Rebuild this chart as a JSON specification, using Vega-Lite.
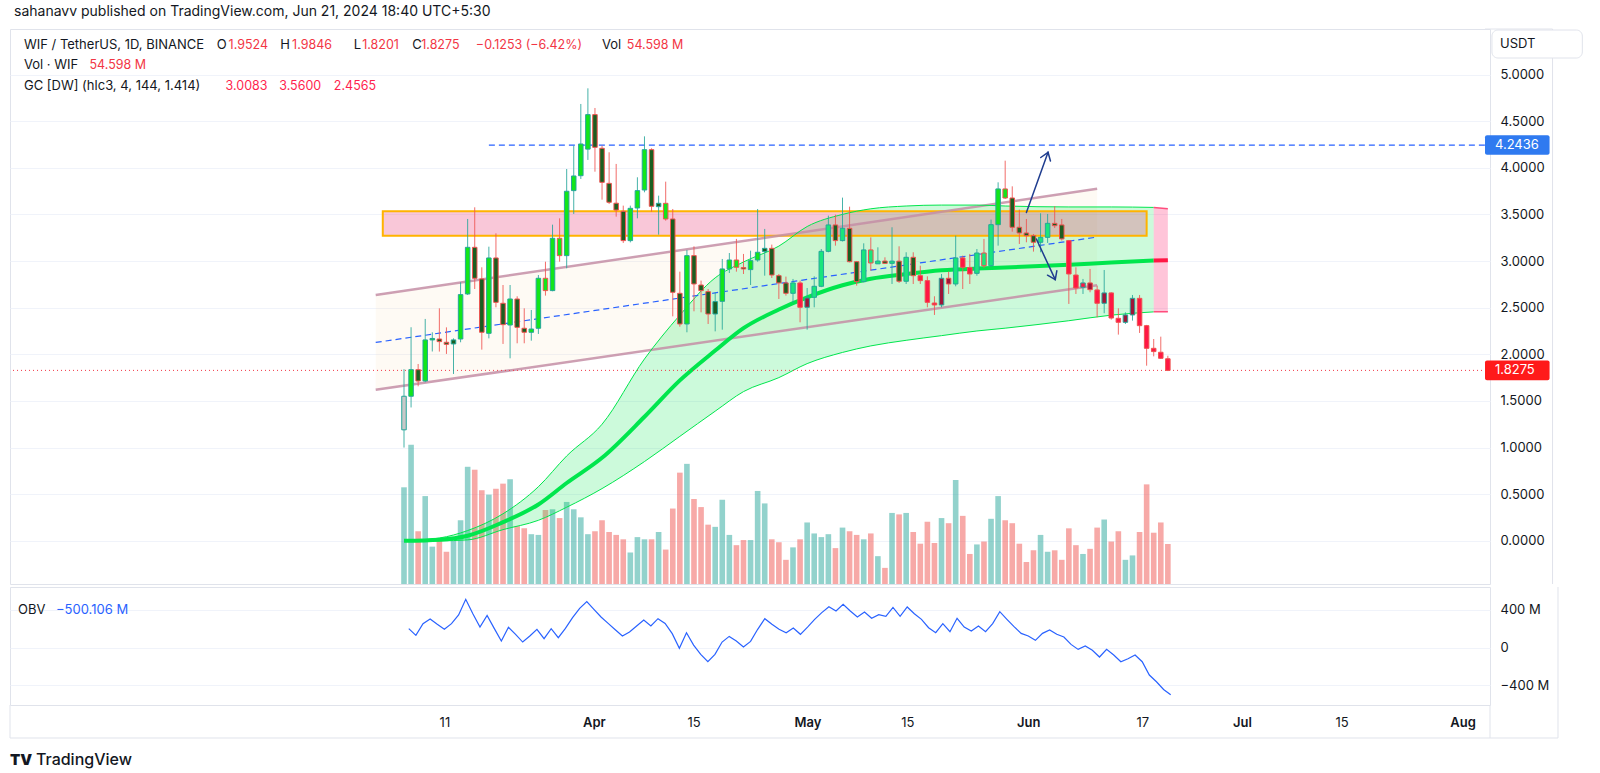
{
"$schema": "https://vega.github.io/schema/vega-lite/v6.json",
"padding": {"left": 9, "top": 4, "right": 0, "bottom": 0},
"background": "#ffffff",
"spacing": 1,
"config": {
  "font": "Inter",
  "view": {"stroke": "#e0e3eb", "strokeWidth": 1},
  "text": {"align": "left", "baseline": "middle", "fontSize": 13, "color": "#131722", "font": "Inter"}
},
"datasets": {
"candles": [
{"date":"2024-03-05","open":1.19,"high":1.84,"low":1.0,"close":1.55,"volume":132,"tone":"gray"},
{"date":"2024-03-06","open":1.55,"high":2.29,"low":1.43,"close":1.835,"volume":190,"tone":"lime"},
{"date":"2024-03-07","open":1.835,"high":1.896,"low":1.657,"close":1.714,"volume":72,"tone":"dkgreen"},
{"date":"2024-03-08","open":1.714,"high":2.379,"low":1.7,"close":2.154,"volume":120,"tone":"lime"},
{"date":"2024-03-09","open":2.154,"high":2.236,"low":2.03,"close":2.17,"volume":51,"tone":"lime"},
{"date":"2024-03-10","open":2.164,"high":2.493,"low":2.029,"close":2.136,"volume":61,"tone":"dkgreen"},
{"date":"2024-03-11","open":2.129,"high":2.289,"low":2.004,"close":2.107,"volume":44,"tone":"dkgreen"},
{"date":"2024-03-12","open":2.111,"high":2.171,"low":1.789,"close":2.154,"volume":59,"tone":"dkgreen"},
{"date":"2024-03-13","open":2.164,"high":2.772,"low":2.129,"close":2.64,"volume":87,"tone":"lime"},
{"date":"2024-03-14","open":2.647,"high":3.451,"low":2.636,"close":3.147,"volume":160,"tone":"lime"},
{"date":"2024-03-15","open":3.147,"high":3.576,"low":2.7,"close":2.815,"volume":156,"tone":"dkgreen"},
{"date":"2024-03-16","open":2.808,"high":2.933,"low":2.05,"close":2.236,"volume":128,"tone":"dkgreen"},
{"date":"2024-03-17","open":2.225,"high":3.154,"low":2.171,"close":3.033,"volume":122,"tone":"lime"},
{"date":"2024-03-18","open":3.033,"high":3.297,"low":2.504,"close":2.557,"volume":130,"tone":"dkgreen"},
{"date":"2024-03-19","open":2.547,"high":2.743,"low":2.111,"close":2.318,"volume":137,"tone":"dkgreen"},
{"date":"2024-03-20","open":2.314,"high":2.743,"low":1.957,"close":2.593,"volume":143,"tone":"lime"},
{"date":"2024-03-21","open":2.593,"high":2.622,"low":2.118,"close":2.289,"volume":79,"tone":"dkgreen"},
{"date":"2024-03-22","open":2.279,"high":2.493,"low":2.118,"close":2.236,"volume":76,"tone":"dkgreen"},
{"date":"2024-03-23","open":2.236,"high":2.475,"low":2.146,"close":2.271,"volume":68,"tone":"lime"},
{"date":"2024-03-24","open":2.279,"high":2.85,"low":2.218,"close":2.815,"volume":67,"tone":"lime"},
{"date":"2024-03-25","open":2.815,"high":2.993,"low":2.629,"close":2.683,"volume":101,"tone":"lime"},
{"date":"2024-03-26","open":2.683,"high":3.39,"low":2.676,"close":3.244,"volume":102,"tone":"lime"},
{"date":"2024-03-27","open":3.244,"high":3.458,"low":2.993,"close":3.058,"volume":90,"tone":"lime"},
{"date":"2024-03-28","open":3.058,"high":3.987,"low":2.922,"close":3.748,"volume":112,"tone":"lime"},
{"date":"2024-03-29","open":3.755,"high":4.237,"low":3.505,"close":3.912,"volume":102,"tone":"lime"},
{"date":"2024-03-30","open":3.915,"high":4.684,"low":3.88,"close":4.255,"volume":91,"tone":"lime"},
{"date":"2024-03-31","open":4.2,"high":4.852,"low":4.084,"close":4.57,"volume":68,"tone":"lime"},
{"date":"2024-04-01","open":4.57,"high":4.641,"low":3.958,"close":4.219,"volume":72,"tone":"dkgreen"},
{"date":"2024-04-02","open":4.209,"high":4.237,"low":3.658,"close":3.844,"volume":87,"tone":"dkgreen"},
{"date":"2024-04-03","open":3.833,"high":4.166,"low":3.612,"close":3.63,"volume":71,"tone":"dkgreen"},
{"date":"2024-04-04","open":3.62,"high":4.041,"low":3.476,"close":3.547,"volume":67,"tone":"dkgreen"},
{"date":"2024-04-05","open":3.533,"high":3.594,"low":3.194,"close":3.219,"volume":61,"tone":"dkgreen"},
{"date":"2024-04-06","open":3.219,"high":3.594,"low":3.2,"close":3.565,"volume":43,"tone":"lime"},
{"date":"2024-04-07","open":3.569,"high":3.898,"low":3.458,"close":3.755,"volume":64,"tone":"lime"},
{"date":"2024-04-08","open":3.762,"high":4.337,"low":3.737,"close":4.194,"volume":61,"tone":"lime"},
{"date":"2024-04-09","open":4.194,"high":4.209,"low":3.529,"close":3.587,"volume":61,"tone":"dkgreen"},
{"date":"2024-04-10","open":3.583,"high":3.701,"low":3.283,"close":3.619,"volume":71,"tone":"dkgreen"},
{"date":"2024-04-11","open":3.619,"high":3.851,"low":3.433,"close":3.451,"volume":47,"tone":"lime"},
{"date":"2024-04-12","open":3.451,"high":3.558,"low":2.407,"close":2.665,"volume":103,"tone":"dkgreen"},
{"date":"2024-04-13","open":2.654,"high":2.886,"low":2.296,"close":2.325,"volume":152,"tone":"dkgreen"},
{"date":"2024-04-14","open":2.325,"high":3.119,"low":2.236,"close":3.058,"volume":164,"tone":"lime"},
{"date":"2024-04-15","open":3.058,"high":3.158,"low":2.461,"close":2.754,"volume":116,"tone":"dkgreen"},
{"date":"2024-04-16","open":2.743,"high":2.79,"low":2.45,"close":2.683,"volume":105,"tone":"dkgreen"},
{"date":"2024-04-17","open":2.672,"high":2.7,"low":2.325,"close":2.432,"volume":81,"tone":"dkgreen"},
{"date":"2024-04-18","open":2.432,"high":2.665,"low":2.246,"close":2.565,"volume":78,"tone":"dkgreen"},
{"date":"2024-04-19","open":2.568,"high":3.022,"low":2.264,"close":2.915,"volume":115,"tone":"lime"},
{"date":"2024-04-20","open":2.915,"high":3.086,"low":2.872,"close":3.011,"volume":67,"tone":"lime"},
{"date":"2024-04-21","open":3.011,"high":3.237,"low":2.886,"close":2.933,"volume":53,"tone":"lime"},
{"date":"2024-04-22","open":2.93,"high":3.076,"low":2.861,"close":2.915,"volume":60,"tone":"dkgreen"},
{"date":"2024-04-23","open":2.908,"high":3.111,"low":2.743,"close":3.004,"volume":60,"tone":"lime"},
{"date":"2024-04-24","open":3.011,"high":3.558,"low":2.993,"close":3.094,"volume":127,"tone":"lime"},
{"date":"2024-04-25","open":3.101,"high":3.344,"low":2.843,"close":3.136,"volume":110,"tone":"dkgreen"},
{"date":"2024-04-26","open":3.136,"high":3.176,"low":2.818,"close":2.85,"volume":61,"tone":"dkgreen"},
{"date":"2024-04-27","open":2.843,"high":2.861,"low":2.593,"close":2.765,"volume":57,"tone":"dkgreen"},
{"date":"2024-04-28","open":2.765,"high":2.833,"low":2.629,"close":2.654,"volume":33,"tone":"dkgreen"},
{"date":"2024-04-29","open":2.654,"high":2.808,"low":2.55,"close":2.765,"volume":50,"tone":"mint"},
{"date":"2024-04-30","open":2.765,"high":2.79,"low":2.343,"close":2.504,"volume":61,"tone":"red"},
{"date":"2024-05-01","open":2.504,"high":2.711,"low":2.264,"close":2.604,"volume":84,"tone":"maroon"},
{"date":"2024-05-02","open":2.611,"high":2.836,"low":2.504,"close":2.729,"volume":69,"tone":"mint"},
{"date":"2024-05-03","open":2.729,"high":3.129,"low":2.72,"close":3.104,"volume":64,"tone":"mint"},
{"date":"2024-05-04","open":3.104,"high":3.487,"low":3.094,"close":3.387,"volume":68,"tone":"mint"},
{"date":"2024-05-05","open":3.387,"high":3.497,"low":3.165,"close":3.219,"volume":49,"tone":"dkgreen"},
{"date":"2024-05-06","open":3.219,"high":3.68,"low":3.21,"close":3.351,"volume":77,"tone":"mint"},
{"date":"2024-05-07","open":3.351,"high":3.583,"low":2.986,"close":2.993,"volume":72,"tone":"dkgreen"},
{"date":"2024-05-08","open":2.993,"high":3.0,"low":2.736,"close":2.779,"volume":67,"tone":"dkgreen"},
{"date":"2024-05-09","open":2.779,"high":3.19,"low":2.772,"close":3.119,"volume":61,"tone":"mint"},
{"date":"2024-05-10","open":3.119,"high":3.254,"low":2.897,"close":2.979,"volume":69,"tone":"mint"},
{"date":"2024-05-11","open":2.97,"high":3.147,"low":2.97,"close":3.0,"volume":38,"tone":"mint"},
{"date":"2024-05-12","open":3.0,"high":3.04,"low":2.97,"close":2.975,"volume":22,"tone":"dkgreen"},
{"date":"2024-05-13","open":2.975,"high":3.362,"low":2.754,"close":2.999,"volume":97,"tone":"mint"},
{"date":"2024-05-14","open":2.999,"high":3.158,"low":2.765,"close":2.783,"volume":95,"tone":"dkgreen"},
{"date":"2024-05-15","open":2.783,"high":3.094,"low":2.754,"close":3.04,"volume":97,"tone":"mint"},
{"date":"2024-05-16","open":3.04,"high":3.094,"low":2.754,"close":2.843,"volume":71,"tone":"dkgreen"},
{"date":"2024-05-17","open":2.843,"high":2.95,"low":2.754,"close":2.79,"volume":55,"tone":"red"},
{"date":"2024-05-18","open":2.79,"high":2.836,"low":2.504,"close":2.557,"volume":85,"tone":"red"},
{"date":"2024-05-19","open":2.55,"high":2.622,"low":2.422,"close":2.529,"volume":56,"tone":"red"},
{"date":"2024-05-20","open":2.529,"high":2.861,"low":2.504,"close":2.815,"volume":90,"tone":"maroon"},
{"date":"2024-05-21","open":2.815,"high":2.886,"low":2.647,"close":2.754,"volume":83,"tone":"maroon"},
{"date":"2024-05-22","open":2.754,"high":3.272,"low":2.729,"close":3.033,"volume":142,"tone":"mint"},
{"date":"2024-05-23","open":3.033,"high":3.058,"low":2.7,"close":2.933,"volume":93,"tone":"red"},
{"date":"2024-05-24","open":2.93,"high":3.076,"low":2.754,"close":2.861,"volume":41,"tone":"red"},
{"date":"2024-05-25","open":2.868,"high":3.129,"low":2.843,"close":3.086,"volume":54,"tone":"mint"},
{"date":"2024-05-26","open":3.086,"high":3.237,"low":2.926,"close":2.95,"volume":58,"tone":"mint"},
{"date":"2024-05-27","open":2.95,"high":3.444,"low":2.94,"close":3.39,"volume":89,"tone":"mint"},
{"date":"2024-05-28","open":3.39,"high":3.844,"low":3.165,"close":3.773,"volume":120,"tone":"lime"},
{"date":"2024-05-29","open":3.773,"high":4.076,"low":3.665,"close":3.676,"volume":87,"tone":"lime"},
{"date":"2024-05-30","open":3.676,"high":3.801,"low":3.315,"close":3.362,"volume":83,"tone":"dkgreen"},
{"date":"2024-05-31","open":3.362,"high":3.551,"low":3.183,"close":3.301,"volume":55,"tone":"dkgreen"},
{"date":"2024-06-01","open":3.301,"high":3.451,"low":3.201,"close":3.272,"volume":30,"tone":"dkgreen"},
{"date":"2024-06-02","open":3.272,"high":3.29,"low":3.101,"close":3.201,"volume":46,"tone":"dkgreen"},
{"date":"2024-06-03","open":3.201,"high":3.512,"low":3.094,"close":3.254,"volume":67,"tone":"mint"},
{"date":"2024-06-04","open":3.254,"high":3.505,"low":3.194,"close":3.404,"volume":44,"tone":"mint"},
{"date":"2024-06-05","open":3.404,"high":3.587,"low":3.354,"close":3.379,"volume":46,"tone":"dkgreen"},
{"date":"2024-06-06","open":3.387,"high":3.451,"low":3.219,"close":3.237,"volume":33,"tone":"dkgreen"},
{"date":"2024-06-07","open":3.219,"high":3.226,"low":2.54,"close":2.861,"volume":76,"tone":"red"},
{"date":"2024-06-08","open":2.85,"high":2.933,"low":2.647,"close":2.711,"volume":53,"tone":"red"},
{"date":"2024-06-09","open":2.718,"high":2.808,"low":2.647,"close":2.765,"volume":41,"tone":"red"},
{"date":"2024-06-10","open":2.765,"high":2.915,"low":2.665,"close":2.693,"volume":48,"tone":"maroon"},
{"date":"2024-06-11","open":2.69,"high":2.736,"low":2.397,"close":2.547,"volume":77,"tone":"red"},
{"date":"2024-06-12","open":2.547,"high":2.904,"low":2.44,"close":2.658,"volume":88,"tone":"maroon"},
{"date":"2024-06-13","open":2.658,"high":2.665,"low":2.372,"close":2.389,"volume":58,"tone":"red"},
{"date":"2024-06-14","open":2.386,"high":2.493,"low":2.211,"close":2.343,"volume":72,"tone":"red"},
{"date":"2024-06-15","open":2.343,"high":2.45,"low":2.325,"close":2.422,"volume":33,"tone":"maroon"},
{"date":"2024-06-16","open":2.422,"high":2.636,"low":2.361,"close":2.6,"volume":39,"tone":"maroon"},
{"date":"2024-06-17","open":2.6,"high":2.636,"low":2.229,"close":2.307,"volume":71,"tone":"red"},
{"date":"2024-06-18","open":2.307,"high":2.315,"low":1.878,"close":2.064,"volume":136,"tone":"red"},
{"date":"2024-06-19","open":2.064,"high":2.164,"low":1.978,"close":2.029,"volume":70,"tone":"red"},
{"date":"2024-06-20","open":2.022,"high":2.189,"low":1.95,"close":1.957,"volume":84,"tone":"red"},
{"date":"2024-06-21","open":1.9524,"high":1.9846,"low":1.8201,"close":1.8275,"volume":54.598,"tone":"red"}
],
"obv": [
{"date":"2024-03-06","obv":201.8},{"date":"2024-03-07","obv":131},{"date":"2024-03-08","obv":255},{"date":"2024-03-09","obv":304},
{"date":"2024-03-10","obv":248},{"date":"2024-03-11","obv":195},{"date":"2024-03-12","obv":255},{"date":"2024-03-13","obv":347},
{"date":"2024-03-14","obv":513},{"date":"2024-03-15","obv":361},{"date":"2024-03-16","obv":219},{"date":"2024-03-17","obv":343},
{"date":"2024-03-18","obv":205},{"date":"2024-03-19","obv":71},{"date":"2024-03-20","obv":216},{"date":"2024-03-21","obv":142},
{"date":"2024-03-22","obv":60},{"date":"2024-03-23","obv":124},{"date":"2024-03-24","obv":195},{"date":"2024-03-25","obv":96},
{"date":"2024-03-26","obv":202},{"date":"2024-03-27","obv":106},{"date":"2024-03-28","obv":205},{"date":"2024-03-29","obv":319},
{"date":"2024-03-30","obv":418},{"date":"2024-03-31","obv":489},{"date":"2024-04-01","obv":407},{"date":"2024-04-02","obv":326},
{"date":"2024-04-03","obv":258},{"date":"2024-04-04","obv":191},{"date":"2024-04-05","obv":124},{"date":"2024-04-06","obv":166},
{"date":"2024-04-07","obv":230},{"date":"2024-04-08","obv":294},{"date":"2024-04-09","obv":230},{"date":"2024-04-10","obv":308},
{"date":"2024-04-11","obv":258},{"date":"2024-04-12","obv":149},{"date":"2024-04-13","obv":-7},{"date":"2024-04-14","obv":159},
{"date":"2024-04-15","obv":28},{"date":"2024-04-16","obv":-71},{"date":"2024-04-17","obv":-149},{"date":"2024-04-18","obv":-71},
{"date":"2024-04-19","obv":60},{"date":"2024-04-20","obv":120},{"date":"2024-04-21","obv":71},{"date":"2024-04-22","obv":7},
{"date":"2024-04-23","obv":67},{"date":"2024-04-24","obv":195},{"date":"2024-04-25","obv":308},{"date":"2024-04-26","obv":248},
{"date":"2024-04-27","obv":195},{"date":"2024-04-28","obv":159},{"date":"2024-04-29","obv":209},{"date":"2024-04-30","obv":142},
{"date":"2024-05-01","obv":219},{"date":"2024-05-02","obv":301},{"date":"2024-05-03","obv":372},{"date":"2024-05-04","obv":435},
{"date":"2024-05-05","obv":389},{"date":"2024-05-06","obv":460},{"date":"2024-05-07","obv":389},{"date":"2024-05-08","obv":326},
{"date":"2024-05-09","obv":379},{"date":"2024-05-10","obv":312},{"date":"2024-05-11","obv":350},{"date":"2024-05-12","obv":333},
{"date":"2024-05-13","obv":428},{"date":"2024-05-14","obv":333},{"date":"2024-05-15","obv":432},{"date":"2024-05-16","obv":361},
{"date":"2024-05-17","obv":301},{"date":"2024-05-18","obv":212},{"date":"2024-05-19","obv":159},{"date":"2024-05-20","obv":255},
{"date":"2024-05-21","obv":170},{"date":"2024-05-22","obv":312},{"date":"2024-05-23","obv":219},{"date":"2024-05-24","obv":177},
{"date":"2024-05-25","obv":230},{"date":"2024-05-26","obv":170},{"date":"2024-05-27","obv":255},{"date":"2024-05-28","obv":382},
{"date":"2024-05-29","obv":301},{"date":"2024-05-30","obv":223},{"date":"2024-05-31","obv":152},{"date":"2024-06-01","obv":124},
{"date":"2024-06-02","obv":78},{"date":"2024-06-03","obv":152},{"date":"2024-06-04","obv":188},{"date":"2024-06-05","obv":142},
{"date":"2024-06-06","obv":113},{"date":"2024-06-07","obv":35},{"date":"2024-06-08","obv":-18},{"date":"2024-06-09","obv":18},
{"date":"2024-06-10","obv":-28},{"date":"2024-06-11","obv":-99},{"date":"2024-06-12","obv":-18},{"date":"2024-06-13","obv":-78},
{"date":"2024-06-14","obv":-149},{"date":"2024-06-15","obv":-117},{"date":"2024-06-16","obv":-78},{"date":"2024-06-17","obv":-149},
{"date":"2024-06-18","obv":-290},{"date":"2024-06-19","obv":-361},{"date":"2024-06-20","obv":-443},{"date":"2024-06-21","obv":-500.106}
],
"gcUp": [
{"date":"2024-03-05","filt":0,"upper":0,"lower":0},
{"date":"2024-03-10","filt":0.012,"upper":0.03,"lower":0.0},
{"date":"2024-03-14","filt":0.055,"upper":0.11,"lower":0.01},
{"date":"2024-03-19","filt":0.2,"upper":0.29,"lower":0.12},
{"date":"2024-03-24","filt":0.39,"upper":0.58,"lower":0.22},
{"date":"2024-03-28","filt":0.62,"upper":0.91,"lower":0.36},
{"date":"2024-04-02","filt":0.89,"upper":1.25,"lower":0.56},
{"date":"2024-04-08","filt":1.33,"upper":1.95,"lower":0.85},
{"date":"2024-04-13","filt":1.72,"upper":2.42,"lower":1.12},
{"date":"2024-04-18","filt":2.04,"upper":2.82,"lower":1.39},
{"date":"2024-04-22","filt":2.28,"upper":2.99,"lower":1.6},
{"date":"2024-04-27","filt":2.48,"upper":3.16,"lower":1.75},
{"date":"2024-05-01","filt":2.61,"upper":3.37,"lower":1.9},
{"date":"2024-05-06","filt":2.74,"upper":3.5,"lower":2.02},
{"date":"2024-05-10","filt":2.81,"upper":3.56,"lower":2.09},
{"date":"2024-05-15","filt":2.86,"upper":3.59,"lower":2.15},
{"date":"2024-05-20","filt":2.9,"upper":3.6,"lower":2.2},
{"date":"2024-05-25","filt":2.92,"upper":3.6,"lower":2.25},
{"date":"2024-05-29","filt":2.93,"upper":3.59,"lower":2.28},
{"date":"2024-06-07","filt":2.96,"upper":3.58,"lower":2.36},
{"date":"2024-06-13","filt":2.985,"upper":3.58,"lower":2.42},
{"date":"2024-06-19","filt":3.005,"upper":3.575,"lower":2.455}
],
"gcDown": [
{"date":"2024-06-19","filt":3.005,"upper":3.575,"lower":2.455},
{"date":"2024-06-21","filt":3.0083,"upper":3.56,"lower":2.4565}
],
"channel": [
{"date":"2024-03-01","upper":2.635,"lower":1.619,"mid":2.127},
{"date":"2024-06-11","upper":3.774,"lower":2.74,"mid":3.257}
],
"arrows": [
{"t1":1717200000000,"t2":1717464384000,"p1":3.52,"p2":4.166},
{"t1":1717464384000,"t2":1717375392000,"p1":4.166,"p2":4.11},
{"t1":1717464384000,"t2":1717493760000,"p1":4.166,"p2":4.073},
{"t1":1717321824000,"t2":1717552512000,"p1":3.236,"p2":2.8},
{"t1":1717552512000,"t2":1717571520000,"p1":2.8,"p2":2.895},
{"t1":1717552512000,"t2":1717457472000,"p1":2.8,"p2":2.848}
]
},
"resolve": {"scale": {"y": "independent"}},
"vconcat": [
{
"width": 1480, "height": 555,
"resolve": {"scale": {"y": "independent"}},
"layer": [
{
"data": {"name": "candles"},
"mark": {"type": "bar", "width": 5.6, "opacity": 0.5},
"encoding": {
  "x": {"field": "date", "type": "temporal", "scale": {"type": "utc", "domain": [1704844800000, 1722802176000], "nice": false}, "axis": null},
  "y": {"field": "volume", "type": "quantitative", "scale": {"domain": [0, 757.6], "nice": false}, "axis": null},
  "fill": {"condition": {"test": "datum.close >= datum.open", "value": "#26a69a"}, "value": "#ef5350"}
}
},
{
"layer": [
{
"data": {"name": "channel"},
"mark": {"type": "area", "color": "#f7d9b0", "opacity": 0.14},
"encoding": {
  "x": {"field": "date", "type": "temporal", "scale": {"type": "utc", "domain": [1704844800000, 1722802176000], "nice": false}, "axis": null},
  "y": {"field": "upper", "type": "quantitative", "title": null, "scale": {"domain": [-0.463, 5.488], "nice": false, "zero": false},
        "axis": {"orient": "right", "values": [0,0.5,1,1.5,2,2.5,3,3.5,4,4.5,5], "format": ".4f", "title": null, "domain": false, "ticks": false, "labelPadding": 10, "labelFontSize": 13, "labelColor": "#131722", "labelOverlap": false, "labelFlush": false, "grid": true, "gridColor": "#f0f3fa", "gridWidth": 1}},
  "y2": {"field": "lower"}
}
},
{
"data": {"name": "gcUp"},
"mark": {"type": "area", "color": "#00e64d", "opacity": 0.2, "interpolate": "monotone"},
"encoding": {
  "x": {"field": "date", "type": "temporal", "scale": {"type": "utc", "domain": [1704844800000, 1722802176000], "nice": false}, "axis": null},
  "y": {"field": "upper", "type": "quantitative", "title": null, "scale": {"domain": [-0.463, 5.488], "nice": false, "zero": false}},
  "y2": {"field": "lower"}
}
},
{
"data": {"name": "gcDown"},
"mark": {"type": "area", "color": "#ff4081", "opacity": 0.3},
"encoding": {
  "x": {"field": "date", "type": "temporal", "scale": {"type": "utc", "domain": [1704844800000, 1722802176000], "nice": false}, "axis": null},
  "y": {"field": "upper", "type": "quantitative", "title": null, "scale": {"domain": [-0.463, 5.488], "nice": false, "zero": false}},
  "y2": {"field": "lower"}
}
},
{
"data": {"values": [{}]},
"mark": {"type": "rect", "fill": "#e91e63", "fillOpacity": 0.25, "stroke": "#ffb300", "strokeWidth": 2},
"encoding": {
  "x": {"datum": 1709337600000, "type": "temporal", "scale": {"type": "utc", "domain": [1704844800000, 1722802176000], "nice": false}, "axis": null},
  "x2": {"datum": 1718668800000},
  "y": {"datum": 3.272, "type": "quantitative", "scale": {"domain": [-0.463, 5.488], "nice": false, "zero": false}},
  "y2": {"datum": 3.535}
}
},
{
"data": {"name": "channel"},
"mark": {"type": "line", "color": "#c48ea6", "strokeWidth": 2.5, "opacity": 0.85},
"encoding": {
  "x": {"field": "date", "type": "temporal", "scale": {"type": "utc", "domain": [1704844800000, 1722802176000], "nice": false}, "axis": null},
  "y": {"field": "upper", "type": "quantitative", "title": null, "scale": {"domain": [-0.463, 5.488], "nice": false, "zero": false}}
}
},
{
"data": {"name": "channel"},
"mark": {"type": "line", "color": "#c48ea6", "strokeWidth": 2.5, "opacity": 0.85},
"encoding": {
  "x": {"field": "date", "type": "temporal", "scale": {"type": "utc", "domain": [1704844800000, 1722802176000], "nice": false}, "axis": null},
  "y": {"field": "lower", "type": "quantitative", "title": null, "scale": {"domain": [-0.463, 5.488], "nice": false, "zero": false}}
}
},
{
"data": {"name": "gcUp"},
"mark": {"type": "line", "color": "#00e64d", "strokeWidth": 1, "interpolate": "monotone"},
"encoding": {
  "x": {"field": "date", "type": "temporal", "scale": {"type": "utc", "domain": [1704844800000, 1722802176000], "nice": false}, "axis": null},
  "y": {"field": "upper", "type": "quantitative", "title": null, "scale": {"domain": [-0.463, 5.488], "nice": false, "zero": false}}
}
},
{
"data": {"name": "gcUp"},
"mark": {"type": "line", "color": "#00e64d", "strokeWidth": 1, "interpolate": "monotone"},
"encoding": {
  "x": {"field": "date", "type": "temporal", "scale": {"type": "utc", "domain": [1704844800000, 1722802176000], "nice": false}, "axis": null},
  "y": {"field": "lower", "type": "quantitative", "title": null, "scale": {"domain": [-0.463, 5.488], "nice": false, "zero": false}}
}
},
{
"data": {"name": "gcDown"},
"mark": {"type": "line", "color": "#ff4d7d", "strokeWidth": 1.5},
"encoding": {
  "x": {"field": "date", "type": "temporal", "scale": {"type": "utc", "domain": [1704844800000, 1722802176000], "nice": false}, "axis": null},
  "y": {"field": "upper", "type": "quantitative", "title": null, "scale": {"domain": [-0.463, 5.488], "nice": false, "zero": false}}
}
},
{
"data": {"name": "gcDown"},
"mark": {"type": "line", "color": "#ff4d7d", "strokeWidth": 1.5},
"encoding": {
  "x": {"field": "date", "type": "temporal", "scale": {"type": "utc", "domain": [1704844800000, 1722802176000], "nice": false}, "axis": null},
  "y": {"field": "lower", "type": "quantitative", "title": null, "scale": {"domain": [-0.463, 5.488], "nice": false, "zero": false}}
}
},
{
"data": {"name": "gcUp"},
"mark": {"type": "line", "color": "#00e64d", "strokeWidth": 4, "interpolate": "monotone"},
"encoding": {
  "x": {"field": "date", "type": "temporal", "scale": {"type": "utc", "domain": [1704844800000, 1722802176000], "nice": false}, "axis": null},
  "y": {"field": "filt", "type": "quantitative", "title": null, "scale": {"domain": [-0.463, 5.488], "nice": false, "zero": false}}
}
},
{
"data": {"name": "gcDown"},
"mark": {"type": "line", "color": "#ff1744", "strokeWidth": 4},
"encoding": {
  "x": {"field": "date", "type": "temporal", "scale": {"type": "utc", "domain": [1704844800000, 1722802176000], "nice": false}, "axis": null},
  "y": {"field": "filt", "type": "quantitative", "title": null, "scale": {"domain": [-0.463, 5.488], "nice": false, "zero": false}}
}
},
{
"data": {"name": "channel"},
"mark": {"type": "line", "color": "#2962ff", "strokeWidth": 1.2, "strokeDash": [6, 4]},
"encoding": {
  "x": {"field": "date", "type": "temporal", "scale": {"type": "utc", "domain": [1704844800000, 1722802176000], "nice": false}, "axis": null},
  "y": {"field": "mid", "type": "quantitative", "title": null, "scale": {"domain": [-0.463, 5.488], "nice": false, "zero": false}}
}
},
{
"data": {"values": [{}]},
"mark": {"type": "rule", "color": "#2962ff", "strokeWidth": 1.2, "strokeDash": [6, 4]},
"encoding": {
  "x": {"datum": 1710633600000, "type": "temporal", "scale": {"type": "utc", "domain": [1704844800000, 1722802176000], "nice": false}, "axis": null},
  "x2": {"datum": 1722802176000},
  "y": {"datum": 4.2436, "type": "quantitative", "scale": {"domain": [-0.463, 5.488], "nice": false, "zero": false}}
}
},
{
"data": {"values": [{}]},
"mark": {"type": "rule", "color": "#f23645", "strokeWidth": 1, "strokeDash": [1, 3]},
"encoding": {
  "y": {"datum": 1.8275, "type": "quantitative", "scale": {"domain": [-0.463, 5.488], "nice": false, "zero": false}}
}
},
{
"data": {"name": "candles"},
"mark": {"type": "rule", "strokeWidth": 1, "opacity": 0.85},
"encoding": {
  "x": {"field": "date", "type": "temporal", "scale": {"type": "utc", "domain": [1704844800000, 1722802176000], "nice": false}, "axis": null},
  "y": {"field": "low", "type": "quantitative", "title": null, "scale": {"domain": [-0.463, 5.488], "nice": false, "zero": false}},
  "y2": {"field": "high"},
  "stroke": {"condition": {"test": "datum.close >= datum.open", "value": "#26a69a"}, "value": "#ef5350"}
}
},
{
"data": {"name": "candles"},
"mark": {"type": "bar", "width": 4.5, "strokeWidth": 1},
"encoding": {
  "x": {"field": "date", "type": "temporal", "scale": {"type": "utc", "domain": [1704844800000, 1722802176000], "nice": false}, "axis": null},
  "y": {"field": "open", "type": "quantitative", "title": null, "scale": {"domain": [-0.463, 5.488], "nice": false, "zero": false}},
  "y2": {"field": "close"},
  "fill": {"field": "tone", "type": "nominal", "legend": null, "scale": {"domain": ["gray", "lime", "mint", "dkgreen", "red", "maroon"], "range": ["#c8c8c8", "#12e61a", "#19e67c", "#1b5e20", "#ff1744", "#9e1638"]}},
  "stroke": {"condition": {"test": "datum.close >= datum.open", "value": "#26a69a"}, "value": "#ef5350"}
}
},
{
"data": {"name": "arrows"},
"mark": {"type": "rule", "color": "#1f3d8f", "strokeWidth": 1.5, "strokeCap": "round"},
"encoding": {
  "x": {"field": "t1", "type": "temporal", "scale": {"type": "utc", "domain": [1704844800000, 1722802176000], "nice": false}, "axis": null},
  "x2": {"field": "t2"},
  "y": {"field": "p1", "type": "quantitative", "title": null, "scale": {"domain": [-0.463, 5.488], "nice": false, "zero": false}},
  "y2": {"field": "p2"}
}
},
{
"data": {"values": [{}]},
"mark": {"type": "rule", "color": "#e0e3eb", "strokeWidth": 1},
"encoding": {
  "x": {"datum": 1723627200000, "type": "temporal", "scale": {"type": "utc", "domain": [1704844800000, 1722802176000], "nice": false}, "axis": null}
}
},
{
"data": {"values": [{}]},
"mark": {"type": "rule", "color": "#e0e3eb", "strokeWidth": 1},
"encoding": {
  "x": {"datum": 1722802176000, "type": "temporal", "scale": {"type": "utc", "domain": [1704844800000, 1722802176000], "nice": false}, "axis": null},
  "x2": {"datum": 1723627200000},
  "y": {"datum": 5.488, "type": "quantitative", "scale": {"domain": [-0.463, 5.488], "nice": false, "zero": false}}
}
},
{
"data": {"values": [{}]},
"mark": {"type": "rect", "fill": "#2f7af0", "cornerRadius": 2},
"encoding": {
  "x": {"datum": 1722802176000, "type": "temporal", "scale": {"type": "utc", "domain": [1704844800000, 1722802176000], "nice": false}, "axis": null},
  "x2": {"datum": 1723590800000},
  "y": {"datum": 4.139, "type": "quantitative", "scale": {"domain": [-0.463, 5.488], "nice": false, "zero": false}},
  "y2": {"datum": 4.349}
}
},
{
"data": {"values": [{}]},
"mark": {"type": "rect", "fill": "#ff1a1a", "cornerRadius": 2},
"encoding": {
  "x": {"datum": 1722802176000, "type": "temporal", "scale": {"type": "utc", "domain": [1704844800000, 1722802176000], "nice": false}, "axis": null},
  "x2": {"datum": 1723590800000},
  "y": {"datum": 1.7225, "type": "quantitative", "scale": {"domain": [-0.463, 5.488], "nice": false, "zero": false}},
  "y2": {"datum": 1.9325}
}
},
{
"data": {"values": [{}]},
"mark": {"type": "text", "color": "#ffffff", "fontSize": 13},
"encoding": {
  "x": {"datum": 1722923400000, "type": "temporal", "scale": {"type": "utc", "domain": [1704844800000, 1722802176000], "nice": false}, "axis": null},
  "y": {"datum": 4.2436, "type": "quantitative", "scale": {"domain": [-0.463, 5.488], "nice": false, "zero": false}},
  "text": {"value": "4.2436"}
}
},
{
"data": {"values": [{}]},
"mark": {"type": "text", "color": "#ffffff", "fontSize": 13},
"encoding": {
  "x": {"datum": 1722923400000, "type": "temporal", "scale": {"type": "utc", "domain": [1704844800000, 1722802176000], "nice": false}, "axis": null},
  "y": {"datum": 1.8275, "type": "quantitative", "scale": {"domain": [-0.463, 5.488], "nice": false, "zero": false}},
  "text": {"value": "1.8275"}
}
},
{
"data": {"values": [{}]},
"mark": {"type": "rect", "fill": "#ffffff", "stroke": "#e0e3eb", "strokeWidth": 1, "cornerRadius": 6},
"encoding": {
  "x": {"datum": 1722887000000, "type": "temporal", "scale": {"type": "utc", "domain": [1704844800000, 1722802176000], "nice": false}, "axis": null},
  "x2": {"datum": 1723991100000},
  "y": {"datum": 5.177, "type": "quantitative", "scale": {"domain": [-0.463, 5.488], "nice": false, "zero": false}},
  "y2": {"datum": 5.477}
}
},
{
"data": {"values": [{}]},
"mark": {"type": "text", "align": "center", "fontSize": 13},
"encoding": {
  "x": {"datum": 1723202500000, "type": "temporal", "scale": {"type": "utc", "domain": [1704844800000, 1722802176000], "nice": false}, "axis": null},
  "y": {"datum": 5.322, "type": "quantitative", "scale": {"domain": [-0.463, 5.488], "nice": false, "zero": false}},
  "text": {"value": "USDT"}
}
},
{
"data": {"values": [{}]},
"mark": {"type": "text", "fontSize": 14},
"encoding": {
  "x": {"datum": 1704832670000, "type": "temporal", "scale": {"type": "utc", "domain": [1704844800000, 1722802176000], "nice": false}, "axis": null},
  "y": {"datum": 5.67, "type": "quantitative", "scale": {"domain": [-0.463, 5.488], "nice": false, "zero": false}},
  "text": {"value": "sahanavv published on TradingView.com, Jun 21, 2024 18:40 UTC+5:30"}
}
},
{
"data": {"values": [{}]},
"encoding": {"y": {"datum": 5.316, "type": "quantitative", "scale": {"domain": [-0.463, 5.488], "nice": false, "zero": false}}},
"layer": [
 {"mark": {"type": "text"}, "encoding": {"x": {"datum": 1704954000000, "type": "temporal", "scale": {"type": "utc", "domain": [1704844800000, 1722802176000], "nice": false}, "axis": null}, "text": {"value": "WIF / TetherUS, 1D, BINANCE"}}},
 {"mark": {"type": "text"}, "encoding": {"x": {"datum": 1707307860000, "type": "temporal", "scale": {"type": "utc", "domain": [1704844800000, 1722802176000], "nice": false}, "axis": null}, "text": {"value": "O"}}},
 {"mark": {"type": "text", "color": "#f23645", "fontSize": 12.5}, "encoding": {"x": {"datum": 1707453500000, "type": "temporal", "scale": {"type": "utc", "domain": [1704844800000, 1722802176000], "nice": false}, "axis": null}, "text": {"value": "1.9524"}}},
 {"mark": {"type": "text"}, "encoding": {"x": {"datum": 1708084400000, "type": "temporal", "scale": {"type": "utc", "domain": [1704844800000, 1722802176000], "nice": false}, "axis": null}, "text": {"value": "H"}}},
 {"mark": {"type": "text", "color": "#f23645", "fontSize": 12.5}, "encoding": {"x": {"datum": 1708230000000, "type": "temporal", "scale": {"type": "utc", "domain": [1704844800000, 1722802176000], "nice": false}, "axis": null}, "text": {"value": "1.9846"}}},
 {"mark": {"type": "text"}, "encoding": {"x": {"datum": 1708982300000, "type": "temporal", "scale": {"type": "utc", "domain": [1704844800000, 1722802176000], "nice": false}, "axis": null}, "text": {"value": "L"}}},
 {"mark": {"type": "text", "color": "#f23645", "fontSize": 12.5}, "encoding": {"x": {"datum": 1709085400000, "type": "temporal", "scale": {"type": "utc", "domain": [1704844800000, 1722802176000], "nice": false}, "axis": null}, "text": {"value": "1.8201"}}},
 {"mark": {"type": "text"}, "encoding": {"x": {"datum": 1709698100000, "type": "temporal", "scale": {"type": "utc", "domain": [1704844800000, 1722802176000], "nice": false}, "axis": null}, "text": {"value": "C"}}},
 {"mark": {"type": "text", "color": "#f23645", "fontSize": 12.5}, "encoding": {"x": {"datum": 1709807300000, "type": "temporal", "scale": {"type": "utc", "domain": [1704844800000, 1722802176000], "nice": false}, "axis": null}, "text": {"value": "1.8275"}}},
 {"mark": {"type": "text", "color": "#f23645", "fontSize": 12.5}, "encoding": {"x": {"datum": 1710474700000, "type": "temporal", "scale": {"type": "utc", "domain": [1704844800000, 1722802176000], "nice": false}, "axis": null}, "text": {"value": "−0.1253 (−6.42%)"}}},
 {"mark": {"type": "text"}, "encoding": {"x": {"datum": 1712015600000, "type": "temporal", "scale": {"type": "utc", "domain": [1704844800000, 1722802176000], "nice": false}, "axis": null}, "text": {"value": "Vol"}}},
 {"mark": {"type": "text", "color": "#f23645", "fontSize": 12.5}, "encoding": {"x": {"datum": 1712318900000, "type": "temporal", "scale": {"type": "utc", "domain": [1704844800000, 1722802176000], "nice": false}, "axis": null}, "text": {"value": "54.598 M"}}}
]
},
{
"data": {"values": [{}]},
"encoding": {"y": {"datum": 5.097, "type": "quantitative", "scale": {"domain": [-0.463, 5.488], "nice": false, "zero": false}}},
"layer": [
 {"mark": {"type": "text"}, "encoding": {"x": {"datum": 1704954000000, "type": "temporal", "scale": {"type": "utc", "domain": [1704844800000, 1722802176000], "nice": false}, "axis": null}, "text": {"value": "Vol · WIF"}}},
 {"mark": {"type": "text", "color": "#f23645", "fontSize": 12.5}, "encoding": {"x": {"datum": 1705754800000, "type": "temporal", "scale": {"type": "utc", "domain": [1704844800000, 1722802176000], "nice": false}, "axis": null}, "text": {"value": "54.598 M"}}}
]
},
{
"data": {"values": [{}]},
"encoding": {"y": {"datum": 4.877, "type": "quantitative", "scale": {"domain": [-0.463, 5.488], "nice": false, "zero": false}}},
"layer": [
 {"mark": {"type": "text"}, "encoding": {"x": {"datum": 1704954000000, "type": "temporal", "scale": {"type": "utc", "domain": [1704844800000, 1722802176000], "nice": false}, "axis": null}, "text": {"value": "GC [DW] (hlc3, 4, 144, 1.414)"}}},
 {"mark": {"type": "text", "color": "#ff1f4f", "fontSize": 12.5}, "encoding": {"x": {"datum": 1707417100000, "type": "temporal", "scale": {"type": "utc", "domain": [1704844800000, 1722802176000], "nice": false}, "axis": null}, "text": {"value": "3.0083"}}},
 {"mark": {"type": "text", "color": "#ff1f4f", "fontSize": 12.5}, "encoding": {"x": {"datum": 1708072300000, "type": "temporal", "scale": {"type": "utc", "domain": [1704844800000, 1722802176000], "nice": false}, "axis": null}, "text": {"value": "3.5600"}}},
 {"mark": {"type": "text", "color": "#ff1f4f", "fontSize": 12.5}, "encoding": {"x": {"datum": 1708739600000, "type": "temporal", "scale": {"type": "utc", "domain": [1704844800000, 1722802176000], "nice": false}, "axis": null}, "text": {"value": "2.4565"}}}
]
}
]
}
]
},
{
"width": 1480, "height": 118,
"layer": [
{
"data": {"name": "obv"},
"mark": {"type": "line", "color": "#2962ff", "strokeWidth": 1.2},
"encoding": {
  "x": {"field": "date", "type": "temporal", "title": null, "scale": {"type": "utc", "domain": [1704844800000, 1722802176000], "nice": false},
        "axis": {"orient": "bottom", "values": [1710115200000, 1711929600000, 1713139200000, 1714521600000, 1715731200000, 1717200000000, 1718582400000, 1719792000000, 1721001600000, 1722470400000],
                 "labelExpr": "utcdate(datum.value) == 1 ? utcFormat(datum.value, '%b') : utcFormat(datum.value, '%-d')",
                 "labelFontWeight": {"condition": {"test": "utcdate(datum.value) == 1", "value": 600}, "value": 400},
                 "labelFontSize": 13, "labelColor": "#131722", "labelPadding": 11, "domain": false, "ticks": false, "grid": false, "title": null, "labelOverlap": false, "labelFlush": false}},
  "y": {"field": "obv", "type": "quantitative", "title": null, "scale": {"domain": [-608, 644], "nice": false, "zero": false},
        "axis": {"orient": "right", "values": [-400, 0, 400], "labelExpr": "datum.value == 0 ? '0' : (datum.value > 0 ? datum.value + ' M' : '−' + abs(datum.value) + ' M')", "title": null, "domain": false, "ticks": false, "labelPadding": 10, "labelFontSize": 13, "labelColor": "#131722", "grid": true, "gridColor": "#f0f3fa", "labelOverlap": false, "labelFlush": false}}
}
},
{
"data": {"values": [{}]},
"encoding": {"y": {"datum": 400, "type": "quantitative", "scale": {"domain": [-608, 644], "nice": false, "zero": false}}},
"layer": [
 {"mark": {"type": "text"}, "encoding": {"x": {"datum": 1704941870000, "type": "temporal", "scale": {"type": "utc", "domain": [1704844800000, 1722802176000], "nice": false}}, "text": {"value": "OBV"}}},
 {"mark": {"type": "text", "color": "#2962ff"}, "encoding": {"x": {"datum": 1705402930000, "type": "temporal", "scale": {"type": "utc", "domain": [1704844800000, 1722802176000], "nice": false}}, "text": {"value": "−500.106 M"}}}
]
},
{
"data": {"values": [{}]},
"mark": {"type": "rule", "color": "#e0e3eb", "strokeWidth": 1},
"encoding": {
  "x": {"datum": 1704844800000, "type": "temporal", "scale": {"type": "utc", "domain": [1704844800000, 1722802176000], "nice": false}},
  "x2": {"datum": 1723627200000},
  "y": {"datum": -958, "type": "quantitative", "scale": {"domain": [-608, 644], "nice": false, "zero": false}}
}
},
{
"data": {"values": [{}]},
"mark": {"type": "rule", "color": "#e0e3eb", "strokeWidth": 1},
"encoding": {
  "x": {"datum": 1723627200000, "type": "temporal", "scale": {"type": "utc", "domain": [1704844800000, 1722802176000], "nice": false}},
  "y": {"datum": 644, "type": "quantitative", "scale": {"domain": [-608, 644], "nice": false, "zero": false}},
  "y2": {"datum": -958}
}
},
{
"data": {"values": [{}]},
"mark": {"type": "rule", "color": "#e0e3eb", "strokeWidth": 1},
"encoding": {
  "x": {"datum": 1722802176000, "type": "temporal", "scale": {"type": "utc", "domain": [1704844800000, 1722802176000], "nice": false}},
  "y": {"datum": -608, "type": "quantitative", "scale": {"domain": [-608, 644], "nice": false, "zero": false}},
  "y2": {"datum": -958}
}
},
{
"data": {"values": [{}]},
"mark": {"type": "rule", "color": "#e0e3eb", "strokeWidth": 1},
"encoding": {
  "x": {"datum": 1704844800000, "type": "temporal", "scale": {"type": "utc", "domain": [1704844800000, 1722802176000], "nice": false}},
  "y": {"datum": -608, "type": "quantitative", "scale": {"domain": [-608, 644], "nice": false, "zero": false}},
  "y2": {"datum": -958}
}
},
{
"data": {"values": [{}]},
"encoding": {"y": {"datum": -1191.5, "type": "quantitative", "scale": {"domain": [-608, 644], "nice": false, "zero": false}}},
"layer": [
 {"mark": {"type": "text", "fontSize": 15, "fontWeight": 900}, "encoding": {"x": {"datum": 1704844800000, "type": "temporal", "scale": {"type": "utc", "domain": [1704844800000, 1722802176000], "nice": false}}, "text": {"value": "TV"}}},
 {"mark": {"type": "text", "fontSize": 16, "fontWeight": 500}, "encoding": {"x": {"datum": 1705160000000, "type": "temporal", "scale": {"type": "utc", "domain": [1704844800000, 1722802176000], "nice": false}}, "text": {"value": "TradingView"}}}
]
}
]
}
]
}
